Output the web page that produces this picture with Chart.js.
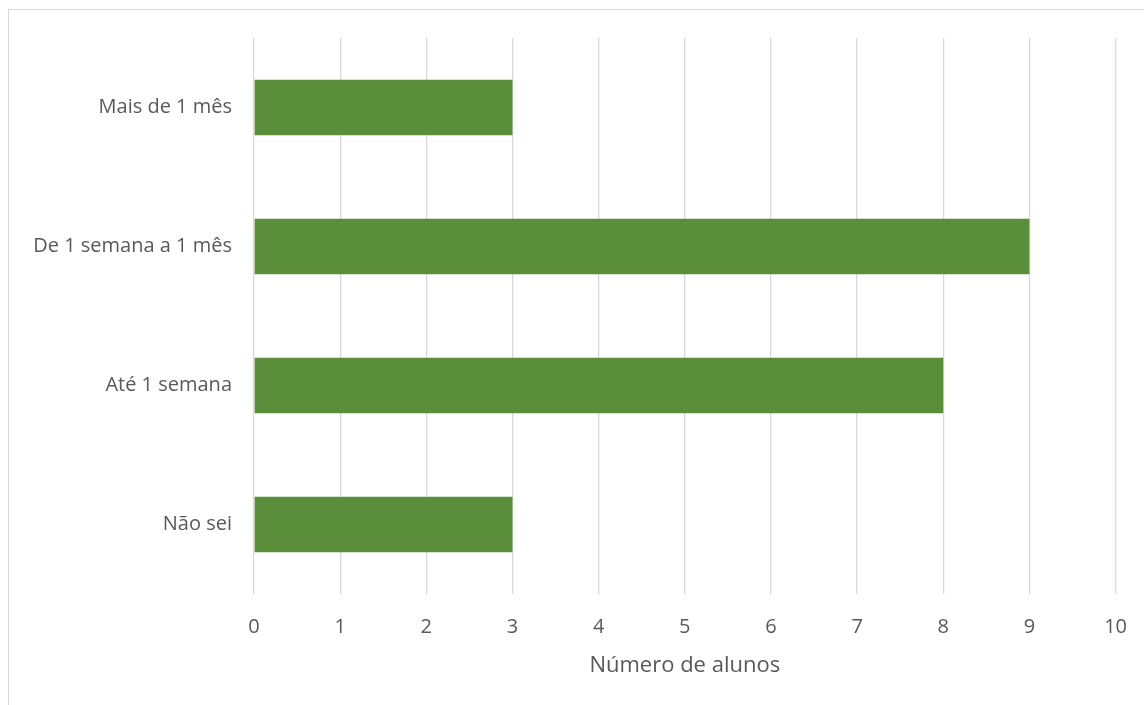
<!DOCTYPE html>
<html>
<head>
<meta charset="utf-8">
<script src="https://cdn.jsdelivr.net/npm/chart.js@4.4.1/dist/chart.umd.min.js"></script>
<style>
  html, body { margin: 0; padding: 0; background: #fff; }
  #wrap { position: relative; width: 1144px; height: 705px; overflow: hidden; }
  #frame { position: absolute; left: 8px; top: 9px; width: 1200px; height: 800px;
           border-top: 1px solid #d9d9d9; border-left: 1px solid #d9d9d9; }
  canvas { position: absolute; left: 0; top: 0; }
</style>
</head>
<body>
<div id="wrap">
  <div id="frame"></div>
  <canvas id="chart" width="1148" height="705"></canvas>
</div>
<script>
const categories = ["Mais de 1 mês", "De 1 semana a 1 mês", "Até 1 semana", "Não sei"];
const alunos = [3, 9, 8, 3];
const xTitle = "Número de alunos";

const textColor = "#595959";
const fontFamily = "'Open Sans', sans-serif";

const ctx = document.getElementById("chart").getContext("2d");
const chart = new Chart(ctx, {
  type: "bar",
  data: {
    labels: categories,
    datasets: [{
      label: xTitle,
      data: alunos,
      backgroundColor: "#5b8e3a",
      borderWidth: 0,
      barPercentage: 0.4,
      categoryPercentage: 1
    }]
  },
  options: {
    indexAxis: "y",
    responsive: false,
    animation: false,
    layout: { padding: { top: 38, right: 0, left: 0, bottom: 0 } },
    plugins: {
      legend: { display: false },
      tooltip: { enabled: false }
    },
    scales: {
      x: {
        min: 0,
        max: 10,
        ticks: {
          stepSize: 1,
          color: textColor,
          padding: 21,
          font: { family: fontFamily, size: 20 }
        },
        grid: { color: "#d9d9d9", lineWidth: 1.3, drawTicks: false },
        border: { display: false },
        title: {
          display: true,
          text: xTitle,
          color: textColor,
          padding: { top: 8, bottom: 26 },
          font: { family: fontFamily, size: 22 }
        },
        afterFit: scale => { scale.height = 111; }
      },
      y: {
        ticks: {
          color: textColor,
          padding: 22,
          font: { family: fontFamily, size: 20 }
        },
        grid: { display: false, drawTicks: false },
        border: { display: false },
        afterFit: scale => { scale.width = 254; }
      }
    }
  }
});
</script>
</body>
</html>
